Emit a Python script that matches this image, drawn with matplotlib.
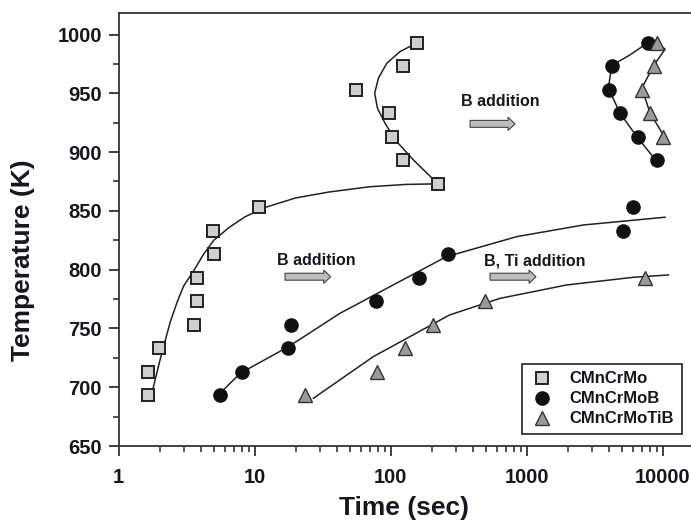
import matplotlib
matplotlib.use('Agg')
import matplotlib.pyplot as plt
from matplotlib.ticker import FixedLocator, NullFormatter, LogLocator

plt.rcParams['font.family'] = ['Liberation Sans', 'DejaVu Sans']
plt.rcParams['font.weight'] = 'bold'

TXT = '#161620'

# measured transformation data
temps_mo = [693, 713, 733, 753, 773, 793, 813, 833, 853, 873, 893, 913, 933, 953, 973, 993]
time_mo = [1.65, 1.65, 1.97, 3.6, 3.77, 3.77, 5.02, 4.93, 10.7, 222, 124, 101.7, 97.2, 55.3, 124, 157]

temps_mob = [693, 713, 733, 753, 773, 793, 813, 833, 853, 893, 913, 933, 953, 973, 993]
time_mob = [5.6, 8.07, 17.7, 18.4, 78, 162, 265, 5080, 6080, 9030, 6610, 4850, 4050, 4220, 7840]

temps_motib = [693, 713, 733, 753, 773, 793, 913, 933, 953, 973, 993]
time_motib = [23.4, 79.8, 127, 206, 494, 7410, 10100, 8070, 7010, 8630, 9130]

# fitted curves
fit_mo_t = [1.78, 2.0, 2.2, 2.4, 2.7, 3.0, 3.6, 4.2, 5.0, 6.5, 8.5, 12, 20, 35, 70, 130, 222,
            146.6, 107.7, 90.7, 79.8, 76.2, 81.2, 93.6, 117, 157]
fit_mo_T = [698, 722, 740, 756, 773, 786, 800, 813, 825, 836, 845, 853, 861, 866, 870.5, 872.5, 873,
            893.4, 910.4, 924.6, 937.4, 950.1, 962.9, 975.6, 985.5, 993]

fit_mob_t = [5.56, 7.8, 17.7, 42.4, 98.6, 256, 845, 2610, 10400]
fit_mob_T = [694.8, 711.8, 734.5, 762.9, 785.5, 811, 828.1, 838, 844.6]

fit_mob_hi_t = [7840, 5750, 4220, 3980, 4850, 6440, 9030]
fit_mob_hi_T = [993.3, 982.7, 973.7, 954.4, 933.1, 913.2, 892]

fit_motib_t = [27, 74.4, 271, 637, 1970, 6080, 11000]
fit_motib_T = [690.6, 726, 761.5, 775.6, 787, 793.5, 795.5]

fit_motib_hi_t = [9130, 10400, 8630, 7010, 8070, 10090]
fit_motib_hi_T = [992.7, 987.5, 974.1, 954.4, 933.1, 914.6]

fig = plt.figure(figsize=(6.91, 5.23), dpi=100)
ax = fig.add_axes([0.1718, 0.1472, 0.8466, 0.8273])

lw_fit = 1.1
ax.plot(fit_mo_t, fit_mo_T, color='#222222', lw=lw_fit, zorder=2)
ax.plot(fit_mob_t, fit_mob_T, color='#222222', lw=lw_fit, zorder=2)
ax.plot(fit_mob_hi_t, fit_mob_hi_T, color='#222222', lw=lw_fit, zorder=2)
ax.plot(fit_motib_t, fit_motib_T, color='#222222', lw=lw_fit, zorder=2)
ax.plot(fit_motib_hi_t, fit_motib_hi_T, color='#222222', lw=lw_fit, zorder=2)

ax.plot(time_mo, temps_mo, ls='none', marker='s', ms=8.5, mfc='#cfcfcf', mec='#222222',
        mew=1.4, zorder=3, label='CMnCrMo')
ax.plot(time_mob, temps_mob, ls='none', marker='o', ms=9.5, mfc='#111111', mec='#111111',
        mew=1.0, zorder=3, label='CMnCrMoB')
ax.plot(time_motib, temps_motib, ls='none', marker='^', ms=10, mfc='#9a9a9a', mec='#333333',
        mew=1.0, zorder=4, label='CMnCrMoTiB')

ax.set_xscale('log')
ax.set_xlim(1, 20000)
ax.set_ylim(650, 1018)

ax.xaxis.set_major_locator(FixedLocator([1, 10, 100, 1000, 10000]))
ax.set_xticklabels(['1', '10', '100', '1000', '10000'])
ax.xaxis.set_minor_locator(LogLocator(base=10, subs=range(2, 10)))
ax.xaxis.set_minor_formatter(NullFormatter())
ax.yaxis.set_major_locator(FixedLocator(range(650, 1001, 50)))
ax.yaxis.set_minor_locator(FixedLocator(range(675, 1001, 50)))

for sp in ax.spines.values():
    sp.set_linewidth(1.3)
    sp.set_color('#333333')

ax.tick_params(axis='both', which='major', direction='out', length=7, width=1.3,
               color='#333333', labelsize=14.5, labelcolor=TXT)
ax.tick_params(axis='y', which='major', pad=5)
ax.tick_params(axis='x', which='major', pad=9)
ax.tick_params(axis='both', which='minor', direction='out', length=4.5, width=1.2, color='#333333')
ax.tick_params(top=False, right=False, which='both')

ax.set_xlabel('Time (sec)', fontsize=19, fontweight='bold', color=TXT)
ax.set_ylabel('Temperature (K)', fontsize=19, fontweight='bold', color=TXT)
ax.xaxis.set_label_coords(0.488, -0.115)
ax.yaxis.set_label_coords(-0.143, 0.43)

# alloying-effect arrows
arrow_kw = dict(arrowstyle='simple,head_length=0.5,head_width=0.95,tail_width=0.5',
                fc='#bdbdbd', ec='#444444', lw=0.8, shrinkA=0, shrinkB=0)
ax.annotate('', xy=(820, 924), xytext=(383, 924), arrowprops=arrow_kw)
ax.annotate('', xy=(36.2, 794), xytext=(16.7, 794), arrowprops=arrow_kw)
ax.annotate('', xy=(1170, 794), xytext=(537, 794), arrowprops=arrow_kw)
ax.text(637, 943, 'B addition', fontsize=11.5, fontweight='bold', color=TXT, ha='center', va='center')
ax.text(28.2, 807.7, 'B addition', fontsize=11.5, fontweight='bold', color=TXT, ha='center', va='center')
ax.text(1151, 807.7, 'B, Ti addition', fontsize=11.5, fontweight='bold', color=TXT, ha='center', va='center')

leg = ax.legend(loc='lower right', bbox_to_anchor=(0.9865, 0.1702), bbox_transform=fig.transFigure,
                borderaxespad=0, fancybox=False, framealpha=1, edgecolor='#222222',
                prop={'size': 12, 'weight': 'bold'}, labelspacing=0.3, handlelength=1.5,
                handletextpad=0.9, borderpad=0.45, numpoints=1)
leg.get_frame().set_linewidth(1.2)
for t in leg.get_texts():
    t.set_color(TXT)

fig.savefig('out.png', dpi=100)
